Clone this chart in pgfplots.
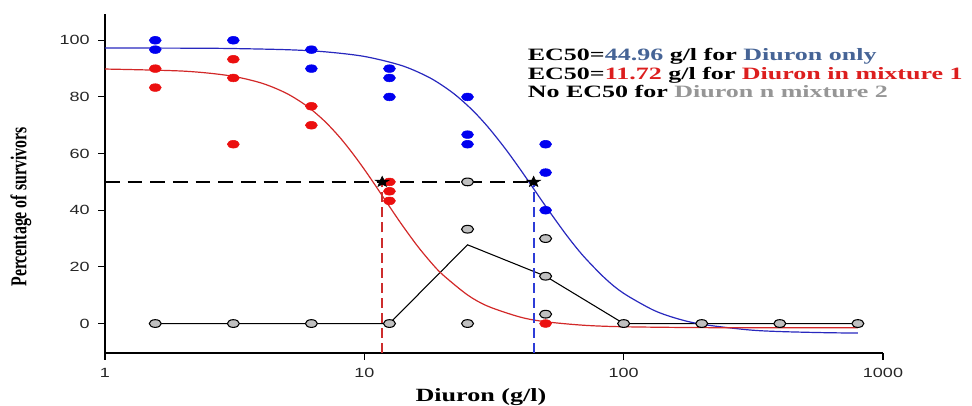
\documentclass[border=0pt]{standalone}
\usepackage{fontspec}
\setmainfont{Liberation Serif}
\newfontfamily\tickfont[FakeStretch=1.35]{Liberation Sans}
\newfontfamily\legfont[FakeStretch=1.5]{Liberation Serif}
\newfontfamily\xlabfont[FakeStretch=1.4]{Liberation Serif}
\newfontfamily\ylabfont[FakeStretch=0.7]{Liberation Serif}
\usepackage{pgfplots}
\pgfplotsset{compat=1.18}
\definecolor{ptblue}{RGB}{0,0,240}
\definecolor{fitblue}{RGB}{40,40,190}
\definecolor{ptred}{RGB}{235,15,15}
\definecolor{fitred}{RGB}{210,40,40}
\definecolor{dashred}{RGB}{205,45,45}
\definecolor{dashblue}{RGB}{45,60,215}
\definecolor{txtblue}{RGB}{70,100,150}
\definecolor{txtred}{RGB}{220,30,30}
\definecolor{txtgray}{RGB}{150,150,150}
\definecolor{ptgray}{RGB}{192,192,192}

% filled five-point star
\pgfdeclareplotmark{fstar}{%
  \pgfpathmoveto{\pgfpointpolar{90}{\pgfplotmarksize}}%
  \pgfpathlineto{\pgfpointpolar{126}{0.42\pgfplotmarksize}}%
  \pgfpathlineto{\pgfpointpolar{162}{\pgfplotmarksize}}%
  \pgfpathlineto{\pgfpointpolar{198}{0.42\pgfplotmarksize}}%
  \pgfpathlineto{\pgfpointpolar{234}{\pgfplotmarksize}}%
  \pgfpathlineto{\pgfpointpolar{270}{0.42\pgfplotmarksize}}%
  \pgfpathlineto{\pgfpointpolar{306}{\pgfplotmarksize}}%
  \pgfpathlineto{\pgfpointpolar{342}{0.42\pgfplotmarksize}}%
  \pgfpathlineto{\pgfpointpolar{18}{\pgfplotmarksize}}%
  \pgfpathlineto{\pgfpointpolar{54}{0.42\pgfplotmarksize}}%
  \pgfpathclose
  \pgfusepathqfillstroke}

\begin{document}
\begin{tikzpicture}
  \begin{axis}[
    name=ax, at={(0,0)}, anchor=south west,
    scale only axis,
    width=583.5pt, height=254.5pt,
    xmode=log, xmin=1, xmax=1000,
    ymin=-10.4, ymax=109.4,
    axis lines=left,
    axis line style={-, line width=0.9pt},
    xtick={1,10,100,1000}, xticklabels={1,10,100,1000},
    minor xtick={}, xminorticks=false,
    ytick={0,20,40,60,80,100},
    tick align=outside, major tick length=5pt,
    tick style={line width=0.8pt, black},
    ticklabel style={font=\tickfont\fontsize{10}{12}\selectfont, text=black!85},
    /pgf/number format/assume math mode=true,
    xticklabel style={yshift=-3pt},
    yticklabel style={xshift=-3pt},
    clip=false,
  ]
  % mean line, Diuron in mixture 2
  \addplot[black, line width=0.8pt] coordinates {
    (1.5625,0) (3.125,0) (6.25,0) (12.5,0) (25,27.8) (50,16.7)
    (100,0) (200,0) (400,0) (800,0)};
  % fitted curve, Diuron only
  \addplot[fitblue, line width=0.9pt, smooth] coordinates {
    (1,97.28) (2,97.22) (3,97.11) (5,96.68) (7,95.96) (10,94.30)
    (14,91.01) (18,86.62) (22,81.35) (26,75.5) (30,69.35) (35,61.67)
    (40,54.32) (45,47.54) (50,41.46) (60,31.39) (70,23.79) (85,15.85)
    (100,10.66) (130,4.77) (160,1.80) (200,-0.26) (300,-2.20)
    (400,-2.83) (600,-3.23) (800,-3.36)};
  % fitted curve, Diuron in mixture 1
  \addplot[fitred, line width=0.9pt, smooth] coordinates {
    (1,89.85) (2,89.12) (3,87.53) (4,84.93) (5,81.31) (6,76.80)
    (7,71.60) (8,65.97) (9,60.16) (10,54.42) (11,48.91) (12.5,41.32)
    (14,34.72) (16,27.46) (18,21.77) (20,17.34) (25,10.10) (30,6.08)
    (40,2.25) (50,0.64) (70,-0.60) (100,-1.14) (200,-1.44)
    (400,-1.48) (800,-1.50)};
  % EC50 guide lines
  \addplot[black, line width=1pt, dash pattern=on 11pt off 6pt]
    coordinates {(1,50) (44.96,50)};
  \addplot[dashred, line width=1.5pt, dash pattern=on 7.5pt off 3.8pt]
    coordinates {(11.72,-10.4) (11.72,50)};
  \addplot[dashblue, line width=1.5pt, dash pattern=on 7.5pt off 3.8pt]
    coordinates {(44.96,-10.4) (44.96,50)};
  % observations
  \addplot[only marks, mark=*, mark size=2.9pt, draw=black, line width=0.8pt,
    mark options={xscale=1.55, fill=ptgray}] coordinates {
    (1.5625,0) (3.125,0) (6.25,0) (12.5,0) (25,50) (25,33.3) (25,0)
    (50,30) (50,16.7) (50,3.3) (100,0) (200,0) (400,0) (800,0)};
  \addplot[only marks, mark=*, mark size=2.9pt, ptblue,
    mark options={xscale=1.55}] coordinates {
    (1.5625,100) (1.5625,96.7) (3.125,100) (6.25,96.7) (6.25,90)
    (12.5,90) (12.5,86.7) (12.5,80) (25,80) (25,66.7) (25,63.3)
    (50,63.3) (50,53.3) (50,40)};
  \addplot[only marks, mark=*, mark size=2.9pt, ptred,
    mark options={xscale=1.55}] coordinates {
    (1.5625,90) (1.5625,83.3) (3.125,93.3) (3.125,86.7) (3.125,63.3)
    (6.25,76.7) (6.25,70) (12.5,50) (12.5,46.7) (12.5,43.3) (50,0)};
  % EC50 points
  \addplot[only marks, mark=fstar, mark size=4.2pt, black,
    mark options={xscale=1.3}] coordinates {(11.72,50) (44.96,50)};
  % annotation
  \node[anchor=base west, inner sep=0pt, font=\legfont\bfseries\fontsize{13}{15}\selectfont]
    at (axis cs:42.6,92.8) {EC50=\textcolor{txtblue}{44.96} g/l for \textcolor{txtblue}{Diuron only}};
  \node[anchor=base west, inner sep=0pt, font=\legfont\bfseries\fontsize{13}{15}\selectfont]
    at (axis cs:42.6,86.1) {EC50=\textcolor{txtred}{11.72} g/l for \textcolor{txtred}{Diuron in mixture 1}};
  \node[anchor=base west, inner sep=0pt, font=\legfont\bfseries\fontsize{13}{15}\selectfont]
    at (axis cs:42.6,79.7) {No EC50 for \textcolor{txtgray}{Diuron n mixture 2}};
  \end{axis}
  % axis titles
  \node[font=\xlabfont\bfseries\fontsize{14}{16}\selectfont]
    at ({(481-105)*0.75pt},{-(397-353)*0.75pt}) {Diuron (g/l)};
  \node[rotate=90, font=\ylabfont\bfseries\fontsize{17}{19}\selectfont]
    at ({(21-105)*0.75pt},{(353-207)*0.75pt}) {Percentage of survivors};
  \pgfresetboundingbox
  \path[use as bounding box] (-78.75pt,-39.75pt) rectangle (650.25pt,264.75pt);
\end{tikzpicture}
\end{document}
